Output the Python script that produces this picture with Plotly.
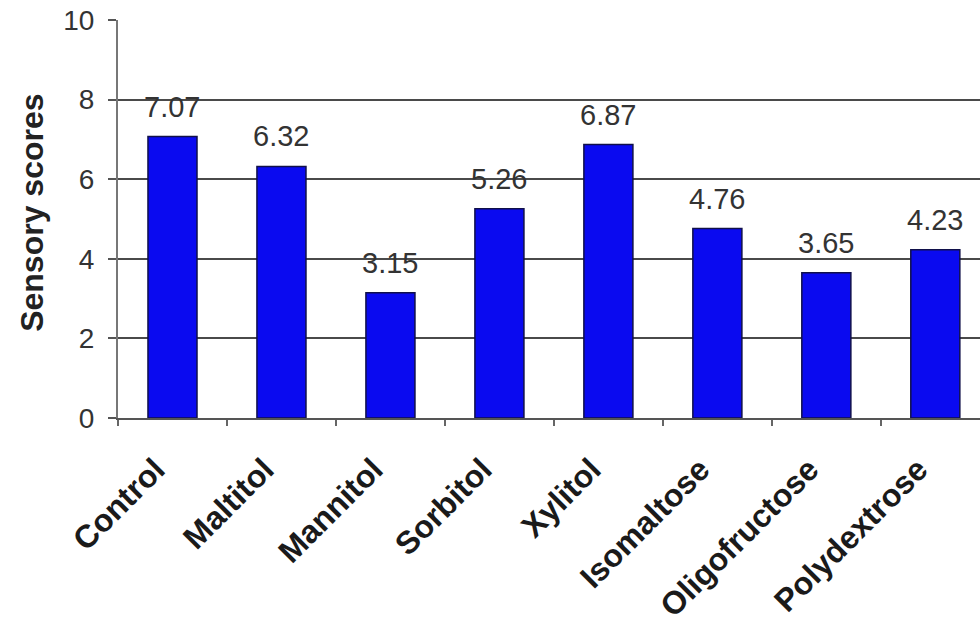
import plotly.graph_objects as go

# Sensory scores per sweetener
categories = ["Control", "Maltitol", "Mannitol", "Sorbitol", "Xylitol",
              "Isomaltose", "Oligofructose", "Polydextrose"]
scores = [7.07, 6.32, 3.15, 5.26, 6.87, 4.76, 3.65, 4.23]
score_labels = ["7.07", "6.32", "3.15", "5.26", "6.87", "4.76", "3.65", "4.23"]
y_ticks = [0, 2, 4, 6, 8, 10]

FONT = "Liberation Sans, Arial, sans-serif"

fig = go.Figure()
fig.add_trace(go.Bar(
    x=categories,
    y=scores,
    width=0.45,
    marker=dict(color="#0a0af0", line=dict(color="#10104a", width=1.5)),
    hoverinfo="x+y",
))

# value labels floating above each bar
for cat, val, lab in zip(categories, scores, score_labels):
    fig.add_annotation(
        x=cat, y=val, text=lab, showarrow=False,
        yanchor="middle", yshift=30,
        font=dict(family=FONT, size=29, color="#333333"),
    )

# vertical axis title
fig.add_annotation(
    xref="paper", yref="paper", x=-0.1, y=0.515,
    xanchor="center", yanchor="middle",
    text="<b>Sensory scores</b>", textangle=-90, showarrow=False,
    font=dict(family=FONT, size=32, color="#222222"),
)

fig.update_layout(
    width=980, height=626,
    margin=dict(l=118, r=0, t=20, b=208),
    paper_bgcolor="white",
    plot_bgcolor="white",
    showlegend=False,
)

fig.update_xaxes(
    range=[-0.5, 7.41],
    tickson="boundaries",
    ticks="outside", ticklen=6, tickcolor="#666666", tickwidth=1.5,
    showline=True, linecolor="#555555", linewidth=2,
    showgrid=False,
    tickangle=-45,
    ticklabelstandoff=18,
    ticklabelshift=-17,
    automargin=False,
    tickfont=dict(family=FONT, size=32, color="#1a1a1a", weight="bold"),
)

fig.update_yaxes(
    range=[0, 10],
    tickvals=y_ticks,
    ticks="outside", ticklen=8, tickcolor="#555555", tickwidth=1.5,
    showline=True, linecolor="#777777", linewidth=2,
    showgrid=True, gridcolor="#4a4a4a", gridwidth=2,
    zeroline=False,
    automargin=False,
    ticklabelstandoff=8,
    tickfont=dict(family=FONT, size=28, color="#333333"),
)

fig.write_html("out.html")
